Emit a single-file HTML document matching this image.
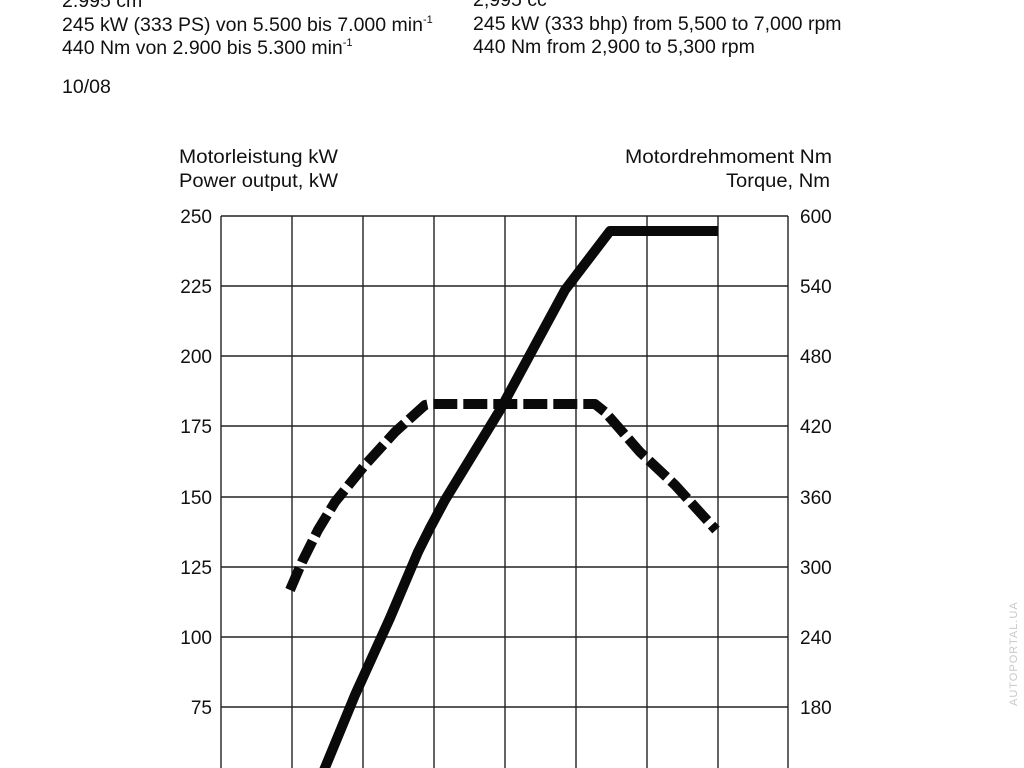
<!DOCTYPE html>
<html><head><meta charset="utf-8"><style>
html,body{margin:0;padding:0;background:#fff;width:1024px;height:768px;overflow:hidden}
body{font-family:"Liberation Sans",sans-serif;color:#111}
.t{position:absolute;font-size:19.5px;white-space:nowrap;line-height:1}
sup{font-size:11px;vertical-align:8px}
</style></head><body>
<div class="t" style="left:62px;top:-9px">2.995 cm<sup>3</sup></div>
<div class="t" style="left:62px;top:15px">245 kW (333 PS) von 5.500 bis 7.000 min<sup>-1</sup></div>
<div class="t" style="left:62px;top:38px">440 Nm von 2.900 bis 5.300 min<sup>-1</sup></div>
<div class="t" style="left:62px;top:78px">10/08</div>
<div class="t" style="left:473px;top:-9px">2,995 cc</div>
<div class="t" style="left:473px;top:15px">245 kW (333 bhp) from 5,500 to 7,000 rpm</div>
<div class="t" style="left:473px;top:38px">440 Nm from 2,900 to 5,300 rpm</div>
<svg width="1024" height="768" style="position:absolute;left:0;top:0">
<g font-family="Liberation Sans,sans-serif" font-size="19" fill="#111">
<text x="179" y="163" textLength="159" lengthAdjust="spacingAndGlyphs">Motorleistung kW</text>
<text x="179" y="187" textLength="159" lengthAdjust="spacingAndGlyphs">Power output, kW</text>
<text x="625" y="163" textLength="207" lengthAdjust="spacingAndGlyphs">Motordrehmoment Nm</text>
<text x="726" y="187" textLength="104" lengthAdjust="spacingAndGlyphs">Torque, Nm</text>
<g text-anchor="end">
<text x="212" y="223">250</text><text x="212" y="293">225</text><text x="212" y="363">200</text><text x="212" y="433">175</text><text x="212" y="504">150</text><text x="212" y="574">125</text><text x="212" y="644">100</text><text x="212" y="714">75</text>
</g>
<text x="800" y="223">600</text><text x="800" y="293">540</text><text x="800" y="363">480</text><text x="800" y="433">420</text><text x="800" y="504">360</text><text x="800" y="574">300</text><text x="800" y="644">240</text><text x="800" y="714">180</text>
</g>
<g stroke="#222" stroke-width="1.4">
<line x1="221" y1="216" x2="221" y2="768"/><line x1="292" y1="216" x2="292" y2="768"/><line x1="363" y1="216" x2="363" y2="768"/><line x1="434" y1="216" x2="434" y2="768"/><line x1="505" y1="216" x2="505" y2="768"/><line x1="576" y1="216" x2="576" y2="768"/><line x1="647" y1="216" x2="647" y2="768"/><line x1="718" y1="216" x2="718" y2="768"/><line x1="788" y1="216" x2="788" y2="768"/>
<line x1="221" y1="216" x2="788" y2="216"/><line x1="221" y1="286" x2="788" y2="286"/><line x1="221" y1="356" x2="788" y2="356"/><line x1="221" y1="426" x2="788" y2="426"/><line x1="221" y1="497" x2="788" y2="497"/><line x1="221" y1="567" x2="788" y2="567"/><line x1="221" y1="637" x2="788" y2="637"/><line x1="221" y1="707" x2="788" y2="707"/>
</g>
<polyline fill="none" stroke="#0a0a0a" stroke-width="10" stroke-linejoin="round" points="322,775 355,695 390,618 418,552 430,528 445,500 500,410 565,290 610,231 718,231"/>
<polyline fill="none" stroke="#0a0a0a" stroke-width="10" stroke-linejoin="round" stroke-dasharray="24,6" points="290,590 302,562 318,530 335,502 365,465 395,432 425,405 430,404 595,404 605,412 640,452 675,485 716,530"/>
<text x="0" y="0" transform="translate(1017,706) rotate(-90)" font-family="Liberation Sans,sans-serif" font-size="11" fill="#c8c8c8" letter-spacing="1">AUTOPORTAL.UA</text>
</svg>
</body></html>
